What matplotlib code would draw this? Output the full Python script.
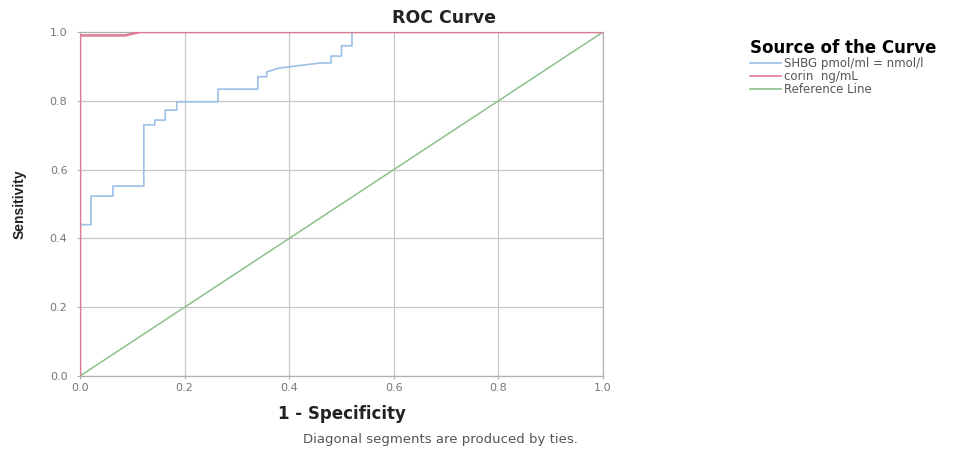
import matplotlib
matplotlib.use("Agg")
import matplotlib.pyplot as plt
from matplotlib.lines import Line2D

plt.rcParams['font.family'] = ['DejaVu Sans']

# Data
shbg_fpr = [0.0, 0.0, 0.021, 0.021, 0.063, 0.063, 0.122, 0.122, 0.143, 0.143, 0.163, 0.163,
            0.185, 0.185, 0.264, 0.264, 0.34, 0.34, 0.357, 0.357, 0.38, 0.46, 0.48, 0.48,
            0.50, 0.50, 0.52, 0.52, 0.535, 1.0]
shbg_tpr = [0.0, 0.44, 0.44, 0.523, 0.523, 0.552, 0.552, 0.73, 0.73, 0.744, 0.744, 0.773,
            0.773, 0.797, 0.797, 0.834, 0.834, 0.87, 0.87, 0.884, 0.895, 0.91, 0.91, 0.93,
            0.93, 0.96, 0.96, 1.0, 1.0, 1.0]
corin_fpr = [0.0, 0.0, 0.086, 0.115, 1.0]
corin_tpr = [0.0, 0.99, 0.99, 1.0, 1.0]
ref_line = [0.0, 1.0]
ticks = [0.0, 0.2, 0.4, 0.6, 0.8, 1.0]
tick_labels = ["0.0", "0.2", "0.4", "0.6", "0.8", "1.0"]
series_names = ["SHBG pmol/ml = nmol/l", "corin  ng/mL", "Reference Line"]

c_blue = "#9dbfe8"
c_red = "#e07b95"
c_green = "#8cc08c"

fig = plt.figure(figsize=(9.78, 4.53), dpi=100)
ax = fig.add_axes([80/978, 1-376/453, 523/978, 344/453])

ax.plot(ref_line, ref_line, color=c_green, lw=1.1, zorder=3)
ax.plot(shbg_fpr, shbg_tpr, color=c_blue, lw=1.2, zorder=4)
ax.plot(corin_fpr, corin_tpr, color=c_red, lw=1.8, zorder=5)

ax.set_xlim(0, 1)
ax.set_ylim(0, 1)
ax.set_xticks(ticks)
ax.set_xticklabels(tick_labels)
ax.set_yticks(ticks)
ax.set_yticklabels(tick_labels)
ax.grid(True, color="#c8c8c8", lw=0.9)
ax.set_axisbelow(True)
for s in ax.spines.values():
    s.set_color("#b0b0b0")
    s.set_linewidth(0.9)
ax.tick_params(axis='both', labelsize=8, labelcolor="#777777", color="#b0b0b0",
               length=2, width=0.8)
ax.tick_params(axis='x', pad=3)
ax.tick_params(axis='y', pad=7)

ax.set_xlabel("1 - Specificity", fontsize=12, fontweight='bold', color="#222222")
ax.xaxis.set_label_coords(0.5, -0.085)
ax.set_ylabel("Sensitivity", fontsize=10, fontweight='bold', color="#222222",
              family=['Liberation Sans', 'DejaVu Sans'])
ax.yaxis.set_label_coords(-0.103, 0.5)

fig.text(444/978, 1-18/453, "ROC Curve", ha='center', va='center', fontsize=12.5,
         fontweight='bold', color="#222222")
fig.text(440/978, 1-440/453, "Diagonal segments are produced by ties.", ha='center',
         va='center', fontsize=9.5, color="#555555")

handles = [Line2D([], [], color=c, lw=1.2) for c in (c_blue, c_red, c_green)]
leg = fig.legend(handles, series_names, loc='upper left', bbox_to_anchor=(742/978, 1-31/453),
                 frameon=False, fontsize=8.5, title="Source of the Curve",
                 title_fontproperties={'weight': 'bold', 'size': 12},
                 handlelength=2.6, handletextpad=0.25, labelspacing=0.0, borderpad=0.2)
for t in leg.get_texts():
    t.set_color("#555555")
leg._legend_box.align = "left"

fig.savefig("out.png", dpi=100)
